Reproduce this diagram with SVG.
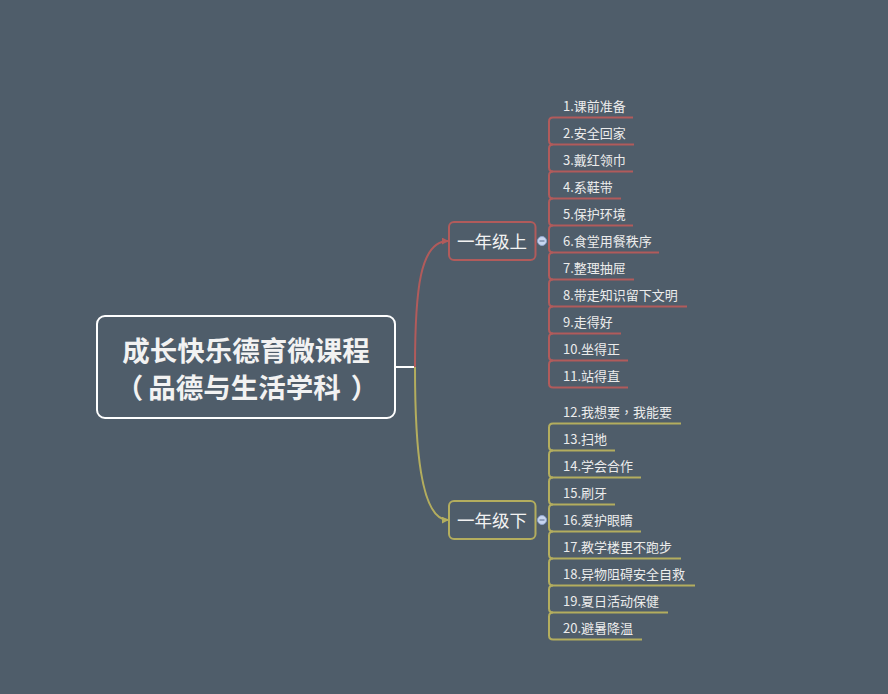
<svg xmlns="http://www.w3.org/2000/svg" width="888" height="694" viewBox="0 0 888 694">
<defs>
<style>
.bg{fill:#4f5d6a}
.leaf{font-family:"Noto Sans CJK SC","Noto Sans",sans-serif;font-size:13px;fill:#ececec}
.sub{font-family:"Noto Sans CJK SC","Noto Sans",sans-serif;font-size:17.5px;fill:#f2f2f2}
.main{font-family:"Noto Sans CJK SC","Noto Sans",sans-serif;font-size:27.5px;font-weight:bold;fill:#f2f2f2}
.tc{font-family:"Noto Sans CJK TC","Noto Sans CJK SC",sans-serif}
.r{fill:none;stroke:#b15b5b;stroke-width:2}
.y{fill:none;stroke:#b3ad5e;stroke-width:2}
.btn{fill:#c8d6f0;stroke:#8ea3cc;stroke-width:1}
.minus{stroke:#6b7c9c;stroke-width:1.2}
</style>
<marker id="ar" viewBox="0 0 8 8" refX="7" refY="4" markerWidth="7" markerHeight="7" markerUnits="userSpaceOnUse" orient="auto"><path d="M0,0 L8,4 L0,8 Z" fill="#b15b5b"/></marker>
<marker id="ay" viewBox="0 0 8 8" refX="7" refY="4" markerWidth="7" markerHeight="7" markerUnits="userSpaceOnUse" orient="auto"><path d="M0,0 L8,4 L0,8 Z" fill="#b3ad5e"/></marker>
</defs>
<rect class="bg" x="0" y="0" width="888" height="694"/>

<g id="connectors">
<line x1="395" y1="367" x2="415" y2="367" stroke="#ffffff" stroke-width="2"/>
<path class="r" d="M415,367 C415,290 420,241 448,241" marker-end="url(#ar)"/>
<path class="y" d="M415,367 C415,444 420,520 448,520" marker-end="url(#ay)"/>
<g id="upper-lines" class="r">
<path d="M553,117.5 L633,117.5"/>
<path d="M553,117.5 Q549,117.5 549,121.5 L549,140.5 Q549,144.5 553,144.5 L634,144.5"/>
<path d="M553,144.5 Q549,144.5 549,148.5 L549,167.5 Q549,171.5 553,171.5 L633,171.5"/>
<path d="M553,171.5 Q549,171.5 549,175.5 L549,194.5 Q549,198.5 553,198.5 L621,198.5"/>
<path d="M553,198.5 Q549,198.5 549,202.5 L549,221.5 Q549,225.5 553,225.5 L633,225.5"/>
<path d="M553,225.5 Q549,225.5 549,229.5 L549,248.5 Q549,252.5 553,252.5 L659,252.5"/>
<path d="M553,252.5 Q549,252.5 549,256.5 L549,275.5 Q549,279.5 553,279.5 L634,279.5"/>
<path d="M553,279.5 Q549,279.5 549,283.5 L549,302.5 Q549,306.5 553,306.5 L687,306.5"/>
<path d="M553,306.5 Q549,306.5 549,310.5 L549,329.5 Q549,333.5 553,333.5 L621,333.5"/>
<path d="M553,333.5 Q549,333.5 549,337.5 L549,356.5 Q549,360.5 553,360.5 L628,360.5"/>
<path d="M553,360.5 Q549,360.5 549,364.5 L549,383.5 Q549,387.5 553,387.5 L628,387.5"/>
</g>
<g id="lower-lines" class="y">
<path d="M553,423.5 L681,423.5"/>
<path d="M553,423.5 Q549,423.5 549,427.5 L549,446.5 Q549,450.5 553,450.5 L615,450.5"/>
<path d="M553,450.5 Q549,450.5 549,454.5 L549,473.5 Q549,477.5 553,477.5 L641,477.5"/>
<path d="M553,477.5 Q549,477.5 549,481.5 L549,500.5 Q549,504.5 553,504.5 L615,504.5"/>
<path d="M553,504.5 Q549,504.5 549,508.5 L549,527.5 Q549,531.5 553,531.5 L641,531.5"/>
<path d="M553,531.5 Q549,531.5 549,535.5 L549,554.5 Q549,558.5 553,558.5 L681,558.5"/>
<path d="M553,558.5 Q549,558.5 549,562.5 L549,581.5 Q549,585.5 553,585.5 L695,585.5"/>
<path d="M553,585.5 Q549,585.5 549,589.5 L549,608.5 Q549,612.5 553,612.5 L668,612.5"/>
<path d="M553,612.5 Q549,612.5 549,616.5 L549,635.5 Q549,639.5 553,639.5 L642,639.5"/>
</g>
</g>

<g id="root">
<rect x="97" y="316" width="298" height="102" rx="8" fill="#4f5d6a" stroke="#ffffff" stroke-width="2"/>
<text class="main" x="246" y="361" text-anchor="middle">成长快乐德育微课程</text>
<text class="main" x="247" y="398" text-anchor="middle"><tspan class="tc">（</tspan><tspan dx="5">品德与生活学科</tspan><tspan class="tc" dx="10">）</tspan></text>
</g>

<g id="grade1-up">
<rect x="449" y="222" width="86.5" height="38" rx="5" fill="#4f5d6a" stroke="#b15b5b" stroke-width="2"/>
<text class="sub" x="492" y="247.5" text-anchor="middle">一年级上</text>
<circle class="btn" cx="542" cy="241" r="4.5"/>
<line class="minus" x1="539.5" y1="241" x2="544.5" y2="241"/>
</g>

<g id="grade1-down">
<rect x="449" y="501" width="86.5" height="38" rx="5" fill="#4f5d6a" stroke="#b3ad5e" stroke-width="2"/>
<text class="sub" x="492" y="526.5" text-anchor="middle">一年级下</text>
<circle class="btn" cx="542" cy="520" r="4.5"/>
<line class="minus" x1="539.5" y1="520" x2="544.5" y2="520"/>
</g>

<g id="leaves-up" class="leaf">
<g id="l1"><text x="563" y="111">1.课前准备</text></g>
<g id="l2"><text x="563" y="138">2.安全回家</text></g>
<g id="l3"><text x="563" y="165">3.戴红领巾</text></g>
<g id="l4"><text x="563" y="192">4.系鞋带</text></g>
<g id="l5"><text x="563" y="219">5.保护环境</text></g>
<g id="l6"><text x="563" y="246">6.食堂用餐秩序</text></g>
<g id="l7"><text x="563" y="273">7.整理抽屉</text></g>
<g id="l8"><text x="563" y="300">8.带走知识留下文明</text></g>
<g id="l9"><text x="563" y="327">9.走得好</text></g>
<g id="l10"><text x="563" y="354">10.坐得正</text></g>
<g id="l11"><text x="563" y="381">11.站得直</text></g>
</g>
<g id="leaves-down" class="leaf">
<g id="l12"><text x="563" y="417">12.我想要<tspan class="tc">，</tspan>我能要</text></g>
<g id="l13"><text x="563" y="444">13.扫地</text></g>
<g id="l14"><text x="563" y="471">14.学会合作</text></g>
<g id="l15"><text x="563" y="498">15.刷牙</text></g>
<g id="l16"><text x="563" y="525">16.爱护眼睛</text></g>
<g id="l17"><text x="563" y="552">17.教学楼里不跑步</text></g>
<g id="l18"><text x="563" y="579">18.异物阻碍安全自救</text></g>
<g id="l19"><text x="563" y="606">19.夏日活动保健</text></g>
<g id="l20"><text x="563" y="633">20.避暑降温</text></g>
</g>
</svg>
